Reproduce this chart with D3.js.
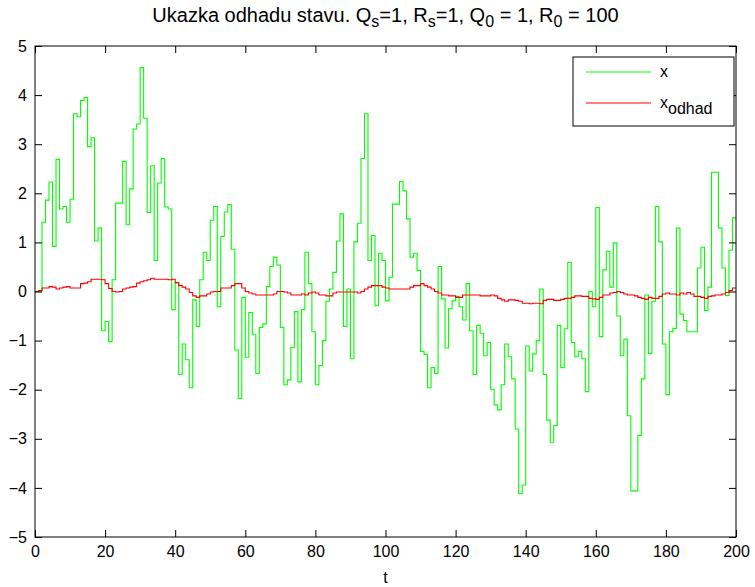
<!DOCTYPE html>
<html><head><meta charset="utf-8">
<script src="https://cdn.jsdelivr.net/npm/d3@7"></script>
<style>body{margin:0;background:#fff}svg{display:block}text{font-family:"Liberation Sans",Arial,sans-serif}</style>
</head><body>
<svg id="c" width="755" height="587"></svg>
<script>
const xTicks = [0,20,40,60,80,100,120,140,160,180,200];
const yTicks = [-5,-4,-3,-2,-1,0,1,2,3,4,5];
const seriesNames = ["x","odhad"];
// x: true state, value on step [k, k+1), k = 0..199
const xTrue = [
0,0,1.41,1.86,2.23,0.92,2.69,1.68,1.73,1.41,
1.88,3.62,3.56,3.89,3.95,2.95,3.13,1.03,1.29,-0.80,
-0.61,-1.02,0.24,1.80,1.80,2.65,1.36,2.09,3.31,3.41,
4.56,3.53,1.61,2.56,0.63,2.21,2.71,1.72,1.68,-0.37,
0.18,-1.69,-1.07,-1.39,-1.96,-0.17,-0.71,0.24,0.80,0.63,
1.45,1.73,-0.31,1.12,1.62,1.77,0.86,-1.19,-2.18,-0.12,
-1.34,-0.43,-0.87,-1.67,-0.73,-0.66,0.10,0.51,0.70,0.54,
-0.73,-1.90,-1.80,-1.14,-0.41,-1.84,-0.37,0.80,0.16,-0.82,
-1.90,-1.51,-1.00,-0.20,0.05,0.39,1.03,1.58,-0.71,0.05,
-1.37,1.01,1.39,2.71,3.62,0.63,1.14,-0.29,0.78,0.63,
-0.19,0.29,1.78,1.78,2.24,2.05,1.48,0.70,0.78,0.43,
-1.22,-1.28,-1.96,-1.55,-1.67,0.51,-0.15,-1.15,-0.35,-0.19,
-0.10,-0.31,-0.58,0.16,-0.80,-1.69,-0.69,-0.85,-1.31,-1.04,
-1.99,-2.31,-2.41,-1.90,-1.07,-1.33,-1.78,-2.80,-4.12,-3.94,
-1.11,-1.62,-1.27,-1.00,0.05,-1.69,-2.62,-3.07,-2.73,-0.69,
-1.55,-0.76,0.59,-1.04,-1.33,-1.22,-1.37,-2.04,0.00,-0.31,
1.71,-0.92,0.44,0.82,0.09,0.99,-0.50,-1.31,-0.97,-2.53,
-4.06,-4.06,-2.93,-1.78,-0.07,-1.26,-0.20,1.73,1.01,-1.07,
-2.10,-0.82,-0.75,1.29,-0.46,-0.59,-0.82,-0.82,-0.82,0.48,
0.90,-0.39,0.09,2.43,2.43,1.29,0.48,-0.08,0.84,1.50
];
// x_odhad: estimate
const xEst = [
0,0.02,0.07,0.07,0.10,0.09,0.05,0.07,0.09,0.10,
0.07,0.07,0.07,0.16,0.17,0.20,0.25,0.25,0.25,0.24,
0.16,0.06,0.00,-0.01,0.00,0.05,0.07,0.09,0.10,0.17,
0.20,0.22,0.24,0.27,0.25,0.25,0.25,0.25,0.24,0.25,
0.18,0.12,0.09,0.05,-0.02,-0.09,-0.12,-0.09,-0.09,-0.05,
-0.01,0.00,0.00,0.07,0.07,0.07,0.12,0.16,0.16,0.07,
0.00,-0.03,-0.05,-0.07,-0.07,-0.07,-0.07,-0.07,-0.05,0.00,
0.00,-0.01,-0.03,-0.07,-0.07,-0.07,-0.05,-0.07,-0.03,-0.01,
-0.03,-0.07,-0.07,-0.09,-0.09,-0.03,-0.01,-0.01,-0.01,-0.01,
-0.01,-0.01,-0.03,0.00,0.05,0.09,0.12,0.12,0.12,0.09,
0.07,0.05,0.05,0.05,0.05,0.05,0.05,0.09,0.12,0.12,
0.16,0.12,0.09,0.05,0.00,-0.03,-0.07,-0.07,-0.09,-0.09,
-0.12,-0.12,-0.07,-0.07,-0.07,-0.07,-0.07,-0.09,-0.09,-0.09,
-0.07,-0.09,-0.14,-0.17,-0.20,-0.17,-0.17,-0.18,-0.20,-0.24,
-0.24,-0.25,-0.24,-0.24,-0.25,-0.18,-0.16,-0.16,-0.18,-0.18,
-0.16,-0.14,-0.14,-0.12,-0.09,-0.09,-0.10,-0.10,-0.14,-0.15,
-0.16,-0.12,-0.07,-0.07,-0.03,-0.02,0.00,-0.02,-0.05,-0.07,
-0.07,-0.09,-0.12,-0.14,-0.16,-0.12,-0.14,-0.14,-0.10,-0.05,
-0.03,-0.05,-0.05,-0.07,-0.03,-0.05,-0.02,-0.05,-0.10,-0.10,
-0.12,-0.14,-0.10,-0.09,-0.07,-0.07,-0.05,-0.02,0.02,0.07
];

const svg = d3.select("#c");
const L=35, R=736, T=46, B=537;
const x = d3.scaleLinear().domain([0,200]).range([L,R]);
const y = d3.scaleLinear().domain([-5,5]).range([B,T]);
const FS = 16;

svg.append("rect").attr("width",755).attr("height",587).attr("fill","#fff");

function stepData(v){ const d=v.map((val,i)=>[i,val]); d.push([v.length, v[v.length-1]]); return d; }
const line = d3.line().x(d=>x(d[0])).y(d=>y(d[1])).curve(d3.curveStepAfter);

svg.append("clipPath").attr("id","pc").append("rect")
  .attr("x",L).attr("y",T).attr("width",R-L).attr("height",B-T);
const plot = svg.append("g").attr("clip-path","url(#pc)");
plot.append("path").datum(stepData(xTrue)).attr("d",line)
  .attr("fill","none").attr("stroke","#00ff00").attr("stroke-width",1.1);
plot.append("path").datum(stepData(xEst)).attr("d",line)
  .attr("fill","none").attr("stroke","#ff0000").attr("stroke-width",1.1);

// axes
const gB = svg.append("g").attr("transform",`translate(0,${B})`)
  .call(d3.axisBottom(x).tickValues(xTicks).tickSize(-7).tickPadding(9).tickFormat(d3.format("d")));
const gT = svg.append("g").attr("transform",`translate(0,${T})`)
  .call(d3.axisTop(x).tickValues(xTicks).tickSize(-7).tickFormat(""));
const gL = svg.append("g").attr("transform",`translate(${L},0)`)
  .call(d3.axisLeft(y).tickValues(yTicks).tickSize(-7).tickPadding(8).tickFormat(d3.format("d")));
const gR = svg.append("g").attr("transform",`translate(${R},0)`)
  .call(d3.axisRight(y).tickValues(yTicks).tickSize(-7).tickFormat(""));
[gB,gT,gL,gR].forEach(g=>{
  g.select(".domain").remove();
  g.selectAll(".tick line").attr("stroke","#000");
  g.selectAll("text").attr("font-size",FS).attr("fill","#000").attr("font-family","Liberation Sans, Arial, sans-serif");
});
svg.append("rect").attr("x",L).attr("y",T).attr("width",R-L).attr("height",B-T)
  .attr("fill","none").attr("stroke","#000").attr("stroke-width",1);

// x label
svg.append("text").attr("x",(L+R)/2).attr("y",583).attr("text-anchor","middle")
  .attr("font-size",FS).text("t");

// title
const TF = 20;
const title = svg.append("text").attr("x",(L+R)/2).attr("y",22).attr("text-anchor","middle").attr("font-size",TF);
const parts = [["Ukazka odhadu stavu. Q",0],["s",1],["=1, R",0],["s",1],["=1, Q",0],["0",1],[" = 1, R",0],["0",1],[" = 100",0]];
let prevSub=false;
parts.forEach(([s,sub])=>{
  const t = title.append("tspan").text(s);
  if(sub){ t.attr("font-size",TF*0.8).attr("dy",5); }
  else if(prevSub){ t.attr("dy",-5); }
  prevSub = !!sub;
});

// legend
const lg = svg.append("g");
lg.append("rect").attr("x",573).attr("y",57).attr("width",161).attr("height",69)
  .attr("fill","#fff").attr("stroke","#000").attr("stroke-width",1);
const legendItems = [{name:seriesNames[0],color:"#00ff00",y:72},{name:"x",sub:seriesNames[1],color:"#ff0000",y:103}];
legendItems.forEach(it=>{
  lg.append("line").attr("x1",586).attr("x2",651).attr("y1",it.y).attr("y2",it.y)
    .attr("stroke",it.color).attr("stroke-width",1.1);
  const t = lg.append("text").attr("x",660).attr("y",it.y+5).attr("font-size",FS);
  t.append("tspan").text(it.name);
  if(it.sub) t.append("tspan").attr("dy",6).attr("font-size",FS).text(it.sub);
});
</script>
</body></html>
